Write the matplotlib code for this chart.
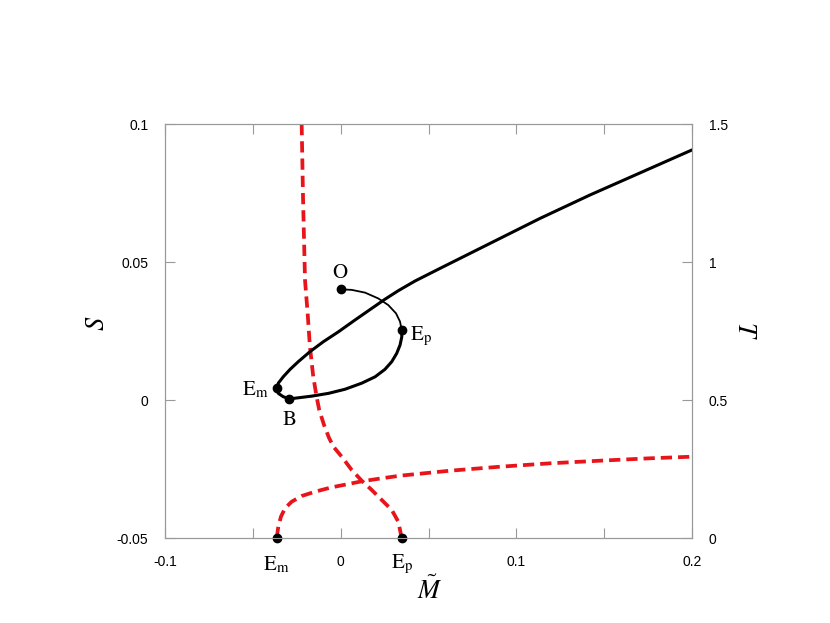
import matplotlib
matplotlib.use("Agg")
import matplotlib.pyplot as plt
from matplotlib.ticker import FixedLocator, FixedFormatter

plt.rcParams['mathtext.fontset'] = 'stix'
plt.rcParams['font.family'] = ['Liberation Sans', 'DejaVu Sans']

# ---- data (left axis S, black) ----
arc_x = [0.0, 0.0063, 0.0139, 0.0214, 0.0271, 0.0315, 0.0338, 0.0347]
arc_s = [0.0401, 0.0399, 0.0389, 0.0368, 0.0344, 0.0314, 0.0284, 0.0254]

loop_x = [0.0347, 0.0348, 0.0338, 0.0319, 0.0291, 0.0252, 0.0196, 0.0120, 0.0025,
          -0.0070, -0.0165, -0.0241, -0.0292, -0.0327, -0.0355, -0.0364,
          -0.0355, -0.0327, -0.0288, -0.0241, -0.0175, -0.0099, -0.0013, 0.0082,
          0.0177, 0.0252, 0.0328, 0.0423, 0.0566, 0.1135, 0.1420, 0.2]
loop_s = [0.0254, 0.0229, 0.0199, 0.0169, 0.0139, 0.0111, 0.0084, 0.0061, 0.0039,
          0.0024, 0.0014, 0.0008, 0.0004, 0.0012, 0.0024, 0.0042,
          0.0061, 0.0084, 0.0111, 0.0139, 0.0175, 0.0211, 0.0247, 0.0290,
          0.0332, 0.0365, 0.0396, 0.0431, 0.0477, 0.0658, 0.0743, 0.0906]

pts_x = [0.0, 0.0347, -0.0364, -0.0292]
pts_s = [0.0401, 0.0254, 0.0042, 0.0004]
pts_lbl = ['O', 'Ep', 'Em', 'B']

# ---- data (right axis T, red dashed) ----
red1_x = [-0.0364, -0.0355, -0.0340, -0.0317, -0.0279, -0.0222, -0.0146, -0.0051,
          0.0044, 0.0120, 0.0234, 0.0338, 0.0622, 0.0907, 0.1192, 0.1476, 0.1761, 0.2]
red1_t = [0.0, 0.041, 0.0772, 0.1076, 0.1315, 0.1522, 0.1677, 0.1837,
          0.1956, 0.2054, 0.2163, 0.2257, 0.2438, 0.2583, 0.2706, 0.2801, 0.2888, 0.2946]

red2_x = [-0.0222, -0.0214, -0.0203, -0.0188, -0.0175, -0.0156, -0.0137, -0.0122,
          -0.0095, -0.0066, -0.0040, 0.0006, 0.0063, 0.0120, 0.0177, 0.0234,
          0.0291, 0.0328, 0.0338, 0.0347]
red2_t = [1.5, 1.2246, 0.9347, 0.8141, 0.6931, 0.5844, 0.5119, 0.4638,
          0.4100, 0.3623, 0.3300, 0.2946, 0.2464, 0.2076, 0.1739, 0.1377,
          0.1014, 0.0591, 0.029, 0.0]

bot_x = [-0.0364, 0.0347]
bot_t = [0.0, 0.0]
bot_lbl = ['Em', 'Ep']

x_ticks = [-0.1, -0.05, 0, 0.05, 0.1, 0.15, 0.2]
x_labels = ['-0.1', '', '0', '', '0.1', '', '0.2']
s_ticks = [-0.05, 0, 0.05, 0.1]
s_labels = ['-0.05', '0', '0.05', '0.1']
t_ticks = [0, 0.5, 1, 1.5]
t_labels = ['0', '0.5', '1', '1.5']

W, H = 830, 623
fig = plt.figure(figsize=(W / 100, H / 100), dpi=100)
ax = fig.add_axes([165 / W, 1 - 538 / H, (692 - 165) / W, (538 - 124) / H])
ax2 = ax.twinx()
ax.set_zorder(ax2.get_zorder() + 1)
ax.patch.set_visible(False)

gray = '#999999'
red = '#e8141a'

ax.set_xlim(-0.1, 0.2)
ax.set_ylim(-0.05, 0.1)
ax2.set_ylim(0, 1.5)

for a in (ax, ax2):
    for sp in a.spines.values():
        sp.set_color(gray)
        sp.set_linewidth(0.8)

ax.xaxis.set_major_locator(FixedLocator(x_ticks))
ax.xaxis.set_major_formatter(FixedFormatter(x_labels))
ax.yaxis.set_major_locator(FixedLocator(s_ticks))
ax.yaxis.set_major_formatter(FixedFormatter(s_labels))
ax2.yaxis.set_major_locator(FixedLocator(t_ticks))
ax2.yaxis.set_major_formatter(FixedFormatter(t_labels))

ax.tick_params(axis='x', direction='in', top=True, length=7, width=0.8,
               color=gray, pad=12, labelsize=10)
ax.tick_params(axis='y', direction='in', length=7, width=0.8,
               color=gray, pad=12, labelsize=10)
ax2.tick_params(axis='y', direction='in', length=7, width=0.8,
                color=gray, pad=12, labelsize=10)

# red dashed (right axis)
ax2.plot(red1_x, red1_t, color=red, lw=2.7, dashes=(3.0, 1.6),
         solid_joinstyle='round', dash_joinstyle='round')
ax2.plot(red2_x, red2_t, color=red, lw=2.7, dashes=(3.0, 1.6),
         solid_joinstyle='round', dash_joinstyle='round')
ax2.plot(bot_x, bot_t, 'o', color='black', ms=6, clip_on=False, zorder=5)
for xx, tt, lb in zip(bot_x, bot_t, bot_lbl):
    ax2.annotate(r'$\mathrm{E}_{\mathrm{%s}}$' % lb[1], (xx, tt), xytext=(0, -19),
                 textcoords='offset points', ha='center', va='center', fontsize=15,
                 annotation_clip=False)

# black (left axis)
ax.plot(arc_x, arc_s, color='black', lw=1.3, solid_joinstyle='round')
ax.plot(loop_x, loop_s, color='black', lw=2.2,
        solid_capstyle='round', solid_joinstyle='round')
ax.plot(pts_x, pts_s, 'o', color='black', ms=6, zorder=5)

offsets = {'O': (0, 12, 'center'), 'Ep': (6, -5, 'left'),
           'Em': (-6, -1, 'right'), 'B': (0, -15, 'center')}
for xx, ss, lb in zip(pts_x, pts_s, pts_lbl):
    dx, dy, ha = offsets[lb]
    if lb in ('O', 'B'):
        txt = r'$\mathrm{%s}$' % lb
    else:
        txt = r'$\mathrm{E}_{\mathrm{%s}}$' % lb[1]
    ax.annotate(txt, (xx, ss), xytext=(dx, dy),
                textcoords='offset points', ha=ha, va='center', fontsize=15)

fig.text(430 / W, 1 - 590 / H, r'$\tilde{M}$', ha='center', va='center', fontsize=19)
fig.text(97 / W, 1 - 323 / H, r'$S$', ha='center', va='center', fontsize=19, rotation=90)
fig.text(745 / W, 1 - 330 / H, r'$T$', ha='center', va='center', fontsize=19, rotation=270)

fig.savefig('out.png', dpi=100)
